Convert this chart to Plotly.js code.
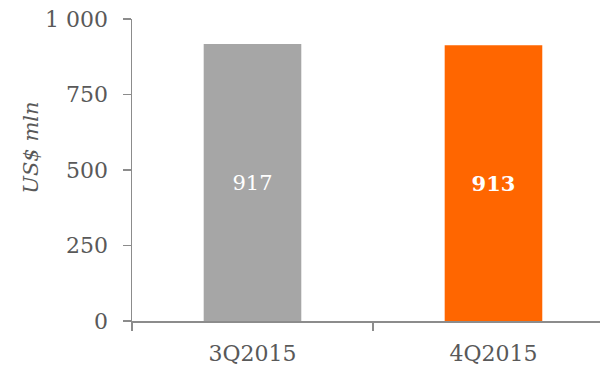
<!DOCTYPE html>
<html>
<head>
<meta charset="utf-8">
<script src="https://cdn.plot.ly/plotly-3.0.1.min.js"></script>
<style>html,body{margin:0;padding:0;background:#fff;}#chart{width:600px;height:366px;}</style>
</head>
<body>
<div id="chart"></div>
<script>
var categories = ["3Q2015", "4Q2015"];
var values = [917, 913];
var barColors = ["#A6A6A6", "#FF6600"];
var labelTemplates = ["%{y}", "<b>%{y}</b>"];
var yTicks = [0, 250, 500, 750, 1000];

var FONT = "DejaVu Serif, Georgia, serif";
var TEXT = "#595959";
var AXIS = "#8C8C8C";

var trace = {
  type: "bar",
  x: categories,
  y: values,
  marker: {color: barColors, line: {width: 0}},
  width: 0.405,
  texttemplate: labelTemplates,
  textposition: "inside",
  insidetextanchor: "middle",
  textfont: {family: FONT, size: 21, color: "#FFFFFF"},
  hoverinfo: "none"
};

var layout = {
  width: 600, height: 366,
  margin: {l: 132, r: 0, t: 19, b: 45, pad: 0},
  paper_bgcolor: "#fff", plot_bgcolor: "#fff",
  separators: ". ",
  showlegend: false,
  font: {family: FONT, color: TEXT, size: 20},
  xaxis: {
    type: "category",
    range: [-0.5, 1.442],
    showline: true, linecolor: AXIS, linewidth: 1.5,
    ticks: "outside", tickson: "boundaries", ticklen: 8, tickcolor: AXIS, tickwidth: 1.5,
    showgrid: false, zeroline: false,
    ticklabelstandoff: 12,
    tickfont: {family: FONT, size: 22, color: TEXT}
  },
  yaxis: {
    range: [0, 1000],
    tickvals: yTicks,
    tickformat: ",d",
    showline: true, linecolor: AXIS, linewidth: 1.5,
    ticks: "outside", ticklen: 8, tickcolor: AXIS, tickwidth: 1.5,
    showgrid: false, zeroline: false,
    ticklabelstandoff: 10,
    tickfont: {family: FONT, size: 22, color: TEXT}
  },
  annotations: [{
    text: "<i>US$ mln</i>",
    xref: "paper", yref: "paper",
    x: -0.215, y: 0.575,
    xanchor: "center", yanchor: "middle",
    textangle: -90,
    showarrow: false,
    font: {family: FONT, size: 21, color: TEXT}
  }]
};

Plotly.newPlot("chart", [trace], layout, {staticPlot: true, displayModeBar: false});
</script>
</body>
</html>
